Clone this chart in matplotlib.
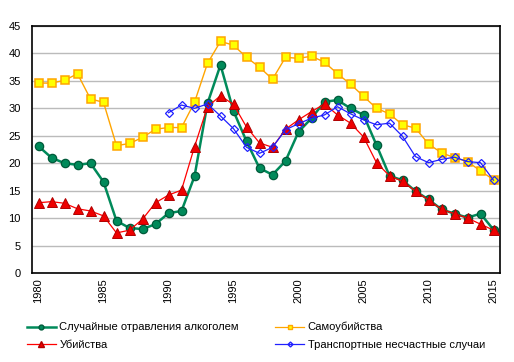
import matplotlib
matplotlib.use("Agg")
import matplotlib.pyplot as plt
from matplotlib.lines import Line2D

plt.rcParams["font.family"] = ["Liberation Sans", "DejaVu Sans"]

years = list(range(1980, 2016))
years_transport = list(range(1990, 2016))

alcohol = [23.1, 21.0, 20.0, 19.7, 20.0, 16.6, 9.5, 8.2, 8.0, 8.9,
           10.9, 11.3, 17.6, 30.9, 37.9, 29.5, 24.0, 19.1, 17.9, 20.4,
           25.7, 28.2, 31.2, 31.5, 30.0, 28.8, 23.3, 17.7, 16.9, 14.9,
           13.4, 11.6, 10.8, 10.1, 10.8, 7.9]
suicide = [34.6, 34.6, 35.1, 36.3, 31.7, 31.1, 23.2, 23.6, 24.7, 26.2,
           26.5, 26.5, 31.1, 38.2, 42.2, 41.5, 39.3, 37.5, 35.3, 39.3,
           39.1, 39.5, 38.4, 36.3, 34.4, 32.2, 30.0, 29.0, 27.0, 26.4,
           23.5, 21.9, 21.0, 20.3, 18.6, 17.0]
murder = [12.8, 13.0, 12.7, 11.7, 11.3, 10.4, 7.3, 7.8, 9.8, 12.8,
          14.2, 15.1, 23.0, 30.3, 32.3, 30.7, 26.6, 23.7, 22.9, 26.2,
          27.9, 29.4, 30.8, 28.8, 27.3, 24.8, 20.1, 17.7, 16.7, 14.9,
          13.3, 11.6, 10.8, 10.0, 8.9, 7.8]
transport = [29.2, 30.6, 30.0, 30.8, 28.6, 26.3, 22.9, 21.8, 22.9, 26.1,
             27.2, 28.2, 28.8, 30.3, 29.0, 27.9, 27.0, 27.3, 24.9, 21.2,
             20.1, 20.7, 21.1, 20.3, 20.1, 16.9]

labels = ["Случайные отравления алкоголем", "Убийства",
          "Самоубийства", "Транспортные несчастные случаи"]

fig = plt.figure(figsize=(5.14, 3.62), dpi=100)
ax = fig.add_axes([32 / 514, 1 - 273 / 362, 468 / 514, 247 / 362])

ax.plot(years, suicide, color="#FFA500", lw=1, marker="s", ms=5.5,
        mfc="#FFFF00", mec="#FFA500", mew=1.1, zorder=3)
ax.plot(years, alcohol, color="#008A5A", lw=1.8, marker="o", ms=6,
        mfc="#008A5A", mec="#005A3A", mew=0.9, zorder=4)
ax.plot(years, murder, color="#FF0000", lw=0.9, marker="^", ms=7,
        mfc="#EE0000", mec="#B00000", mew=0.7, zorder=5)
ax.plot(years_transport, transport, color="#2020FF", lw=0.9, marker="D", ms=4.5,
        mfc="none", mec="#2020FF", mew=0.9, zorder=6)

ax.set_xlim(1979.5, 2015.5)
ax.set_ylim(0, 45)
ax.set_yticks(range(0, 50, 5))
ax.set_xticks(range(1980, 2020, 5))
ax.tick_params(axis="x", labelrotation=90, length=0, labelsize=8, pad=4)
ax.tick_params(axis="y", length=0, labelsize=8, pad=8)
ax.yaxis.grid(True, color="#BBBBBB", lw=1)
ax.set_axisbelow(True)
for s in ax.spines.values():
    s.set_color("black")
    s.set_linewidth(1.2)

handles = [
    Line2D([], [], color="#008A5A", lw=1.8, marker="o", ms=3.5, mfc="#008A5A", mec="#005A3A"),
    Line2D([], [], color="#FF0000", lw=0.9, marker="^", ms=4, mfc="#EE0000", mec="#B00000"),
    Line2D([], [], color="#FFA500", lw=0.9, marker="s", ms=3.5, mfc="#FFFF00", mec="#FFA500"),
    Line2D([], [], color="#2020FF", lw=0.9, marker="D", ms=2.5, mfc="none", mec="#2020FF"),
]
fig.legend(handles, labels, loc="upper left", bbox_to_anchor=(17 / 514, 1 - 312 / 362),
           ncol=2, frameon=False, fontsize=8, handlelength=2.6, handletextpad=0.3,
           columnspacing=3.3, labelspacing=0.65)

fig.savefig("out.png", dpi=100)
